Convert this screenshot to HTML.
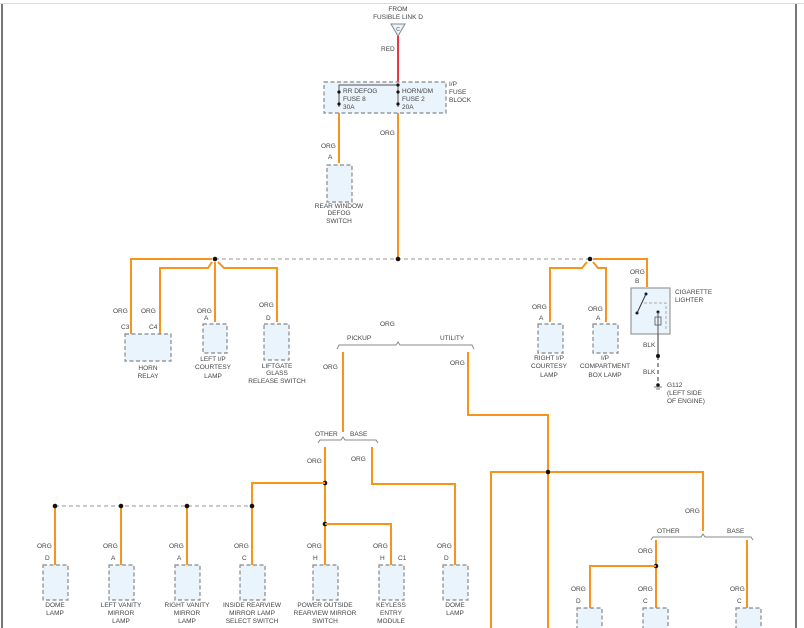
<!DOCTYPE html>
<html><head><meta charset="utf-8"><style>
html,body{margin:0;padding:0;background:#fff;width:804px;height:628px;overflow:hidden}
svg{display:block}
text{font-family:"Liberation Sans",sans-serif;font-size:6.5px;fill:#444}
.o{stroke:#f7941d;stroke-width:2;fill:none}
.g{stroke:#aaa;stroke-width:1.3;fill:none;stroke-dasharray:4,3}
.b{fill:#eaf4fc;stroke:#888;stroke-width:1.2;stroke-dasharray:4,2.5}
.br{stroke:#888;stroke-width:1;fill:none}
</style></head><body>
<svg width="804" height="628" viewBox="0 0 804 628">
<line x1="0" y1="3.5" x2="804" y2="3.5" stroke="#ddd" stroke-width="1"/>
<rect x="1" y="4" width="2" height="624" fill="#777"/>
<rect x="795" y="4" width="2" height="624" fill="#777"/>

<!-- top -->
<text x="398" y="11" text-anchor="middle">FROM</text>
<text x="398" y="19" text-anchor="middle">FUSIBLE LINK D</text>
<polygon points="391,24 405,24 398,36" fill="#eaf4fc" stroke="#888"/>
<text x="398" y="31" text-anchor="middle" style="font-size:5px">C</text>
<line x1="398" y1="36" x2="398" y2="84" stroke="#ee3344" stroke-width="2"/>
<text x="381" y="51">RED</text>

<rect x="324" y="82" width="122" height="31" class="b"/>
<polyline points="339,107 339,85 398,85" stroke="#555" fill="none" stroke-width="1"/>
<line x1="398" y1="85" x2="398" y2="107" stroke="#555"/>
<circle cx="339" cy="92" r="1.6" fill="#111"/><circle cx="339" cy="104" r="1.6" fill="#111"/>
<circle cx="398" cy="92" r="1.6" fill="#111"/><circle cx="398" cy="104" r="1.6" fill="#111"/>
<circle cx="398" cy="85" r="1.6" fill="#111"/>
<text x="343" y="93">RR DEFOG</text><text x="343" y="101">FUSE 8</text><text x="343" y="109">30A</text>
<text x="402" y="93">HORN/DM</text><text x="402" y="101">FUSE 2</text><text x="402" y="109">20A</text>
<text x="449" y="86">I/P</text><text x="449" y="94">FUSE</text><text x="449" y="102">BLOCK</text>

<line x1="339" y1="113" x2="339" y2="163" class="o"/>
<text x="321" y="148">ORG</text><text x="328" y="159">A</text>
<rect x="327" y="165" width="25" height="37" class="b"/>
<text x="339" y="208" text-anchor="middle">REAR WINDOW</text><text x="339" y="215" text-anchor="middle">DEFOG</text><text x="339" y="223" text-anchor="middle">SWITCH</text>

<line x1="398" y1="113" x2="398" y2="259" class="o"/>
<text x="380" y="135">ORG</text>

<!-- bus -->
<line x1="215" y1="259" x2="590" y2="259" class="g"/>
<circle cx="215" cy="259" r="2.3" fill="#111"/><circle cx="398" cy="259" r="2.3" fill="#111"/><circle cx="590" cy="259" r="2.3" fill="#111"/>

<polyline points="212,259 131,259 131,334" class="o"/>
<polyline points="212,262 208,268 160,268 160,334" class="o"/>
<line x1="215" y1="262" x2="215" y2="322" class="o"/>
<polyline points="218,262 224,268 277,268 277,322" class="o"/>
<text x="113" y="313">ORG</text><text x="141" y="313">ORG</text>
<text x="121" y="329">C3</text><text x="149" y="329">C4</text>
<rect x="125" y="334" width="46" height="27" class="b"/>
<text x="148" y="370" text-anchor="middle">HORN</text><text x="148" y="378" text-anchor="middle">RELAY</text>
<text x="197" y="313">ORG</text><text x="204" y="320">A</text>
<rect x="203" y="324" width="24" height="29" class="b"/>
<text x="213" y="361" text-anchor="middle">LEFT I/P</text><text x="213" y="369" text-anchor="middle">COURTESY</text><text x="213" y="378" text-anchor="middle">LAMP</text>
<text x="259" y="307">ORG</text><text x="266" y="320">D</text>
<rect x="264" y="324" width="25" height="36" class="b"/>
<text x="277" y="368" text-anchor="middle">LIFTGATE</text><text x="277" y="375" text-anchor="middle">GLASS</text><text x="277" y="383" text-anchor="middle">RELEASE SWITCH</text>

<polyline points="593,259 647,259 647,287" class="o"/>
<polyline points="587,262 582,268 550,268 550,322" class="o"/>
<polyline points="593,262 598,268 606,268 606,322" class="o"/>
<text x="532" y="309">ORG</text><text x="539" y="320">A</text>
<rect x="538" y="324" width="25" height="29" class="b"/>
<text x="549" y="360" text-anchor="middle">RIGHT I/P</text><text x="549" y="368" text-anchor="middle">COURTESY</text><text x="549" y="377" text-anchor="middle">LAMP</text>
<text x="588" y="311">ORG</text><text x="596" y="320">A</text>
<rect x="593" y="324" width="25" height="29" class="b"/>
<text x="605" y="360" text-anchor="middle">I/P</text><text x="605" y="368" text-anchor="middle">COMPARTMENT</text><text x="605" y="377" text-anchor="middle">BOX LAMP</text>

<text x="630" y="274">ORG</text><text x="635" y="283">B</text>
<rect x="631" y="288" width="39" height="46" fill="#eaf4fc" stroke="#999" stroke-width="1.2"/>
<circle cx="646" cy="294" r="1.5" fill="#111"/><circle cx="637" cy="313" r="1.5" fill="#111"/>
<line x1="646" y1="294" x2="637" y2="313" stroke="#333"/>
<polyline points="644,303 666,303 666,329" stroke="#aaa" fill="none" stroke-dasharray="3,2"/>
<circle cx="658" cy="312" r="1.5" fill="#111"/>
<line x1="658" y1="312" x2="658" y2="334" stroke="#555"/>
<rect x="655" y="317" width="6" height="8" fill="none" stroke="#555" stroke-width="0.8"/>
<text x="675" y="294">CIGARETTE</text><text x="675" y="302">LIGHTER</text>
<line x1="658" y1="334" x2="658" y2="356" stroke="#777" stroke-width="1.5"/>
<line x1="658" y1="356" x2="658" y2="384" stroke="#777" stroke-width="1.5" stroke-dasharray="4,3"/>
<circle cx="658" cy="356" r="2" fill="#111"/>
<text x="643" y="347">BLK</text><text x="643" y="374">BLK</text>
<circle cx="658" cy="385" r="1.8" fill="#111"/>
<line x1="654" y1="387" x2="662" y2="387" stroke="#777"/><line x1="656" y1="389" x2="660" y2="389" stroke="#777"/>
<text x="667" y="387">G112</text><text x="667" y="395">(LEFT SIDE</text><text x="667" y="403">OF ENGINE)</text>

<!-- pickup / utility -->
<text x="380" y="326">ORG</text>
<path d="M337,349 L339,345 L396,345 L398,342 L400,345 L472,345 L474,349" class="br"/>
<text x="347" y="340">PICKUP</text><text x="440" y="340">UTILITY</text>
<line x1="343" y1="352" x2="343" y2="432" class="o"/>
<text x="323" y="369">ORG</text>
<polyline points="468,352 468,415 548,415 548,628" class="o"/>
<text x="450" y="365">ORG</text>

<path d="M318,443 L320,440 L341,440 L343,437 L345,440 L376,440 L378,443" class="br"/>
<text x="315" y="436">OTHER</text><text x="350" y="436">BASE</text>
<line x1="325" y1="447" x2="325" y2="565" class="o"/>
<text x="307" y="463">ORG</text>
<circle cx="325" cy="483" r="2.3" fill="#111"/>
<polyline points="325,483 252,483 252,565" class="o"/>
<polyline points="372,447 372,484 455,484 455,565" class="o"/>
<text x="351" y="461">ORG</text>
<circle cx="325" cy="524" r="2.3" fill="#111"/>
<polyline points="325,524 391,524 391,565" class="o"/>

<line x1="55" y1="506" x2="252" y2="506" class="g"/>
<line x1="55" y1="506" x2="55" y2="565" class="o"/>
<line x1="121" y1="506" x2="121" y2="565" class="o"/>
<line x1="187" y1="506" x2="187" y2="565" class="o"/>
<circle cx="55" cy="506" r="2.3" fill="#111"/><circle cx="121" cy="506" r="2.3" fill="#111"/><circle cx="187" cy="506" r="2.3" fill="#111"/><circle cx="252" cy="506" r="2.3" fill="#111"/>

<g>
<text x="37" y="548">ORG</text><text x="45" y="560">D</text><rect x="43" y="565" width="25" height="35" class="b"/>
<text x="55" y="607" text-anchor="middle">DOME</text><text x="55" y="615" text-anchor="middle">LAMP</text>
<text x="103" y="548">ORG</text><text x="111" y="560">A</text><rect x="109" y="565" width="25" height="35" class="b"/>
<text x="121" y="607" text-anchor="middle">LEFT VANITY</text><text x="121" y="615" text-anchor="middle">MIRROR</text><text x="121" y="623" text-anchor="middle">LAMP</text>
<text x="169" y="548">ORG</text><text x="177" y="560">A</text><rect x="175" y="565" width="25" height="35" class="b"/>
<text x="187" y="607" text-anchor="middle">RIGHT VANITY</text><text x="187" y="615" text-anchor="middle">MIRROR</text><text x="187" y="623" text-anchor="middle">LAMP</text>
<text x="234" y="548">ORG</text><text x="242" y="560">C</text><rect x="240" y="565" width="25" height="35" class="b"/>
<text x="252" y="607" text-anchor="middle">INSIDE REARVIEW</text><text x="252" y="615" text-anchor="middle">MIRROR LAMP</text><text x="252" y="623" text-anchor="middle">SELECT SWITCH</text>
<text x="307" y="548">ORG</text><text x="313" y="560">H</text><rect x="313" y="565" width="25" height="35" class="b"/>
<text x="325" y="607" text-anchor="middle">POWER OUTSIDE</text><text x="325" y="615" text-anchor="middle">REARVIEW MIRROR</text><text x="325" y="623" text-anchor="middle">SWITCH</text>
<text x="373" y="548">ORG</text><text x="380" y="560">H</text><text x="398" y="560">C1</text><rect x="379" y="565" width="25" height="35" class="b"/>
<text x="391" y="607" text-anchor="middle">KEYLESS</text><text x="391" y="615" text-anchor="middle">ENTRY</text><text x="391" y="623" text-anchor="middle">MODULE</text>
<text x="437" y="548">ORG</text><text x="444" y="560">D</text><rect x="443" y="565" width="25" height="35" class="b"/>
<text x="455" y="607" text-anchor="middle">DOME</text><text x="455" y="615" text-anchor="middle">LAMP</text>
</g>

<!-- right bottom -->
<circle cx="548" cy="472" r="2.3" fill="#111"/>
<polyline points="546,472 491,472 491,628" class="o"/>
<polyline points="550,472 703,472 703,531" class="o"/>
<text x="685" y="513">ORG</text>
<path d="M651,540 L653,537 L701,537 L703,534 L705,537 L751,537 L753,540" class="br"/>
<text x="657" y="533">OTHER</text><text x="727" y="533">BASE</text>
<line x1="656" y1="540" x2="656" y2="608" class="o"/>
<text x="638" y="553">ORG</text>
<circle cx="656" cy="566" r="2.3" fill="#111"/>
<polyline points="656,566 590,566 590,608" class="o"/>
<line x1="747" y1="540" x2="747" y2="608" class="o"/>
<text x="571" y="591">ORG</text><text x="576" y="603">D</text><rect x="577" y="608" width="25" height="25" class="b"/>
<text x="638" y="591">ORG</text><text x="643" y="603">C</text><rect x="643" y="608" width="25" height="25" class="b"/>
<text x="730" y="591">ORG</text><text x="737" y="603">C</text><rect x="736" y="608" width="25" height="25" class="b"/>
</svg>
</body></html>
